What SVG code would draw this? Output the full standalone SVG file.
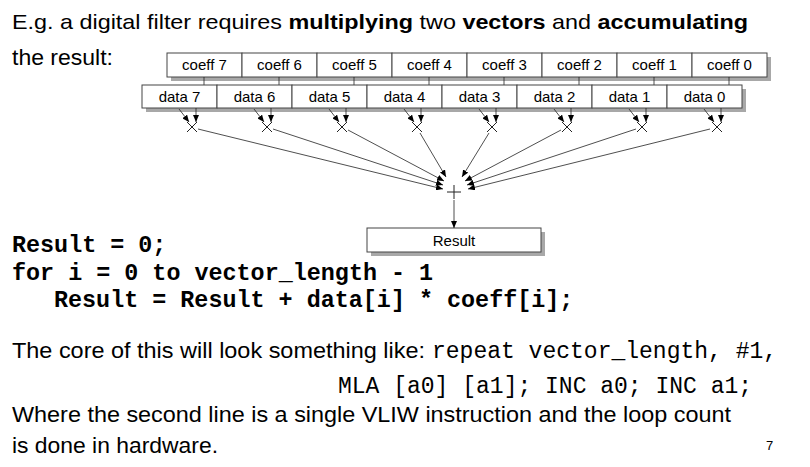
<svg xmlns="http://www.w3.org/2000/svg" width="810" height="467" viewBox="0 0 810 467">
<defs>
<marker id="ah" markerWidth="8" markerHeight="6" refX="7" refY="3" orient="auto" markerUnits="userSpaceOnUse">
<path d="M0,0 L7,3 L0,6 Z" fill="#000"/>
</marker>
<style>
.t{font-family:"Liberation Sans",Arial,sans-serif;fill:#000}
.m{font-family:"Liberation Mono","Courier New",monospace;fill:#000}
.b{font-weight:bold}
.cell{fill:#fff;stroke:#444;stroke-width:1}
.sh{fill:#a8a8a8}
.lbl{font-family:"Liberation Sans",Arial,sans-serif;font-size:15px;fill:#000;text-anchor:middle}
.ln{stroke:#222;stroke-width:0.8;fill:none}
.ar{stroke:#222;stroke-width:0.8;fill:none;marker-end:url(#ah)}
.op{stroke:#222;stroke-width:1;fill:none}
</style>
</defs>
<rect width="810" height="467" fill="#fff"/>
<text class="t" x="12" y="29" font-size="21" textLength="736" lengthAdjust="spacingAndGlyphs">E.g. a digital filter requires <tspan class="b">multiplying</tspan> two <tspan class="b">vectors</tspan> and <tspan class="b">accumulating</tspan></text>
<text class="t" x="12" y="65" font-size="22" textLength="101" lengthAdjust="spacingAndGlyphs">the result:</text>

<g id="coeff-row">
<rect class="sh" x="171" y="57" width="600" height="24"/>
<g id="coeff7"><rect class="cell" x="167" y="53" width="75" height="24"/><text class="lbl" x="204.5" y="70">coeff 7</text></g>
<g id="coeff6"><rect class="cell" x="242" y="53" width="75" height="24"/><text class="lbl" x="279.5" y="70">coeff 6</text></g>
<g id="coeff5"><rect class="cell" x="317" y="53" width="75" height="24"/><text class="lbl" x="354.5" y="70">coeff 5</text></g>
<g id="coeff4"><rect class="cell" x="392" y="53" width="75" height="24"/><text class="lbl" x="429.5" y="70">coeff 4</text></g>
<g id="coeff3"><rect class="cell" x="467" y="53" width="75" height="24"/><text class="lbl" x="504.5" y="70">coeff 3</text></g>
<g id="coeff2"><rect class="cell" x="542" y="53" width="75" height="24"/><text class="lbl" x="579.5" y="70">coeff 2</text></g>
<g id="coeff1"><rect class="cell" x="617" y="53" width="75" height="24"/><text class="lbl" x="654.5" y="70">coeff 1</text></g>
<g id="coeff0"><rect class="cell" x="692" y="53" width="75" height="24"/><text class="lbl" x="729.5" y="70">coeff 0</text></g>
</g>

<g id="ticks">
<path class="ln" d="M204,77V85M279,77V85M354,77V85M429,77V85M504,77V85M579,77V85M654,77V85M729,77V85"/>
</g>

<g id="data-row">
<rect class="sh" x="146" y="89" width="600" height="23"/>
<g id="data7"><rect class="cell" x="142" y="85" width="75" height="23"/><text class="lbl" x="179.5" y="102">data 7</text></g>
<g id="data6"><rect class="cell" x="217" y="85" width="75" height="23"/><text class="lbl" x="254.5" y="102">data 6</text></g>
<g id="data5"><rect class="cell" x="292" y="85" width="75" height="23"/><text class="lbl" x="329.5" y="102">data 5</text></g>
<g id="data4"><rect class="cell" x="367" y="85" width="75" height="23"/><text class="lbl" x="404.5" y="102">data 4</text></g>
<g id="data3"><rect class="cell" x="442" y="85" width="75" height="23"/><text class="lbl" x="479.5" y="102">data 3</text></g>
<g id="data2"><rect class="cell" x="517" y="85" width="75" height="23"/><text class="lbl" x="554.5" y="102">data 2</text></g>
<g id="data1"><rect class="cell" x="592" y="85" width="75" height="23"/><text class="lbl" x="629.5" y="102">data 1</text></g>
<g id="data0"><rect class="cell" x="667" y="85" width="75" height="23"/><text class="lbl" x="704.5" y="102">data 0</text></g>
</g>

<g id="multipliers">
<path class="op" d="M187,122L197,132M197,122L187,132"/>
<path class="op" d="M262,122L272,132M272,122L262,132"/>
<path class="op" d="M337,122L347,132M347,122L337,132"/>
<path class="op" d="M412,122L422,132M422,122L412,132"/>
<path class="op" d="M487,122L497,132M497,122L487,132"/>
<path class="op" d="M562,122L572,132M572,122L562,132"/>
<path class="op" d="M637,122L647,132M647,122L637,132"/>
<path class="op" d="M712,122L722,132M722,122L712,132"/>
</g>

<g id="adder">
<path class="op" d="M447,192H461M454,185V199"/>
</g>

<g id="result-box">
<rect class="sh" x="371" y="232" width="174" height="24"/>
<rect class="cell" x="367" y="228" width="174" height="24"/>
<text class="lbl" x="454" y="246">Result</text>
</g>

<g id="connectors">
<line class="ar" x1="179" y1="109" x2="189" y2="122"/>
<line class="ar" x1="196" y1="108" x2="196" y2="122"/>
<line class="ar" x1="254" y1="109" x2="264" y2="122"/>
<line class="ar" x1="271" y1="108" x2="271" y2="122"/>
<line class="ar" x1="329" y1="109" x2="339" y2="122"/>
<line class="ar" x1="346" y1="108" x2="346" y2="122"/>
<line class="ar" x1="404" y1="109" x2="414" y2="122"/>
<line class="ar" x1="421" y1="108" x2="421" y2="122"/>
<line class="ar" x1="479" y1="109" x2="489" y2="122"/>
<line class="ar" x1="496" y1="108" x2="496" y2="122"/>
<line class="ar" x1="554" y1="109" x2="564" y2="122"/>
<line class="ar" x1="571" y1="108" x2="571" y2="122"/>
<line class="ar" x1="629" y1="109" x2="639" y2="122"/>
<line class="ar" x1="646" y1="108" x2="646" y2="122"/>
<line class="ar" x1="704" y1="109" x2="714" y2="122"/>
<line class="ar" x1="721" y1="108" x2="721" y2="122"/>

<line class="ar" x1="198" y1="129" x2="443" y2="189"/>
<line class="ar" x1="273" y1="129" x2="443" y2="185"/>
<line class="ar" x1="348" y1="130" x2="444" y2="181"/>
<line class="ar" x1="420" y1="133" x2="446" y2="177"/>
<line class="ar" x1="489" y1="133" x2="462" y2="177"/>
<line class="ar" x1="561" y1="130" x2="465" y2="181"/>
<line class="ar" x1="636" y1="129" x2="467" y2="185"/>
<line class="ar" x1="710" y1="129" x2="468" y2="189"/>

<line class="ar" x1="454" y1="200" x2="454" y2="228"/>
</g>

<g id="code">
<text class="m b" x="12" y="252" font-size="23.4">Result = 0;</text>
<text class="m b" x="12" y="280" font-size="23.4">for i = 0 to vector_length - 1</text>
<text class="m b" x="54" y="307" font-size="23.4">Result = Result + data[i] * coeff[i];</text>
</g>

<text class="t" x="12" y="358" font-size="22" textLength="413" lengthAdjust="spacingAndGlyphs">The core of this will look something like:</text>
<text class="m" x="432" y="358" font-size="23">repeat vector_length, #1,</text>
<text class="m" x="338" y="393" font-size="23">MLA [a0] [a1]; INC a0; INC a1;</text>
<text class="t" x="12" y="422" font-size="22" textLength="719" lengthAdjust="spacingAndGlyphs">Where the second line is a single VLIW instruction and the loop count</text>
<text class="t" x="12" y="453" font-size="22" textLength="206" lengthAdjust="spacingAndGlyphs">is done in hardware.</text>
<text class="t" x="766" y="450" font-size="13">7</text>
</svg>
